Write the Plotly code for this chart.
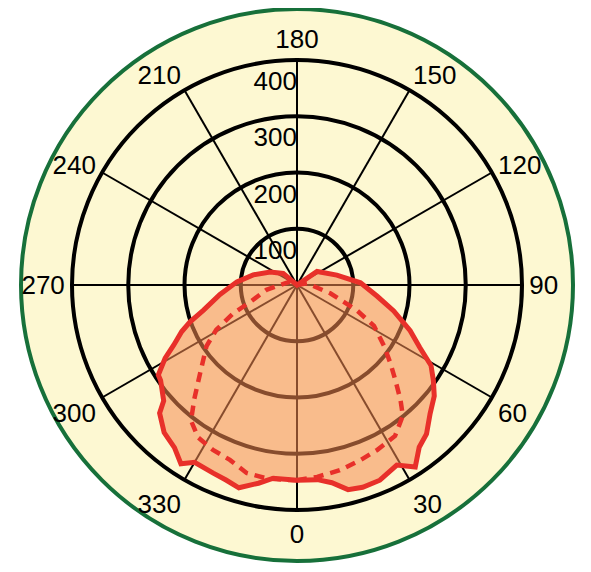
import plotly.graph_objects as go

# ---- data ----
angle_ticks = [0, 30, 60, 90, 120, 150, 180, 210, 240, 270, 300, 330]
angle_labels = [str(a) for a in angle_ticks]
radial_ticks = [100, 200, 300, 400]
radial_labels = [str(v) for v in radial_ticks]

solid_theta = [0, 6, 10, 14, 18, 23, 29, 33, 37, 41, 46, 51, 55, 59, 63, 68, 75, 82, 92,
               104, 124, 180, 230, 244, 257, 267, 277, 285, 289, 292, 296, 299, 303, 305,
               311, 313, 318, 323, 327, 330, 336, 340, 344, 349, 353]
solid_r = [347, 348, 357, 375, 378, 377, 366, 386, 361, 351, 329, 314, 296, 278, 245, 217,
           178, 144, 113, 73, 43, 0, 32, 53, 80, 107, 138, 172, 201, 221, 244, 268, 294, 296,
           314, 334, 353, 362, 379, 364, 366, 369, 375, 359, 346]

dashed_theta = [0, 6, 13, 20, 26, 33, 39, 42, 46, 50, 55, 62, 67, 76, 100, 180, 245, 279,
                290, 294, 299, 304, 313, 318, 322, 327, 333, 339, 345, 351, 358]
dashed_r = [347, 343, 338, 331, 326, 320, 299, 275, 243, 217, 189, 155, 116, 61, 18, 0, 14,
            55, 89, 124, 164, 194, 237, 273, 306, 323, 329, 333, 346, 348, 347]

FONT = "Liberation Sans, Arial, sans-serif"
W, H = 591, 572
OFF = 8                       # page body margin
CX, CY = 297 - OFF, 285 - OFF
R_OUT, R_MAIN = 276, 225


def dom(r):
    return dict(x=[max(0, (CX - r) / W), min(1, (CX + r) / W)],
                y=[max(0, (H - CY - r) / H), min(1, (H - CY + r) / H)])


fig = go.Figure()

# background disc (cream with green rim)
fig.add_trace(go.Scatterpolar(r=[0], theta=[0], mode="markers",
                              marker=dict(size=1, opacity=0),
                              subplot="polar", hoverinfo="skip"))

# solid (filled) distribution
fig.add_trace(go.Scatterpolar(
    r=solid_r + [solid_r[0]], theta=solid_theta + [solid_theta[0]],
    mode="lines", fill="toself", fillcolor="rgba(245,138,82,0.55)",
    line=dict(color="#e8302a", width=5), subplot="polar2", hoverinfo="skip"))

# dashed distribution
fig.add_trace(go.Scatterpolar(
    r=dashed_r + [dashed_r[0]], theta=dashed_theta + [dashed_theta[0]],
    mode="lines", line=dict(color="#e8302a", width=4.5, dash="10px,7px"),
    subplot="polar2", hoverinfo="skip"))

# radial tick labels (placed just inside each ring along the 180 spoke)
fig.add_trace(go.Scatterpolar(
    r=[v - 42 for v in radial_ticks], theta=[180] * len(radial_ticks),
    mode="text", text=radial_labels, textposition="middle left",
    textfont=dict(family=FONT, size=26, color="black"),
    subplot="polar2", hoverinfo="skip", cliponaxis=False))

fig.update_layout(
    width=W, height=H,
    margin=dict(l=0, r=0, t=0, b=0, pad=0),
    paper_bgcolor="white",
    showlegend=False,
    polar=dict(
        domain=dom(R_OUT),
        bgcolor="#fdf8d2",
        radialaxis=dict(visible=False, range=[0, 1]),
        angularaxis=dict(showline=True, linecolor="#17703a", linewidth=4,
                         showgrid=False, showticklabels=False, ticks=""),
    ),
    polar2=dict(
        domain=dom(R_MAIN),
        bgcolor="rgba(0,0,0,0)",
        radialaxis=dict(range=[0, 400], tickvals=radial_ticks, showticklabels=False,
                        showline=False, ticks="", gridcolor="black", gridwidth=4),
        angularaxis=dict(rotation=270, direction="counterclockwise",
                         tickvals=angle_ticks, ticktext=angle_labels,
                         showline=True, linecolor="black", linewidth=4,
                         gridcolor="black", gridwidth=2.2, ticks="",
                         tickfont=dict(family=FONT, size=26, color="black")),
    ),
)

fig.write_html("out.html")
